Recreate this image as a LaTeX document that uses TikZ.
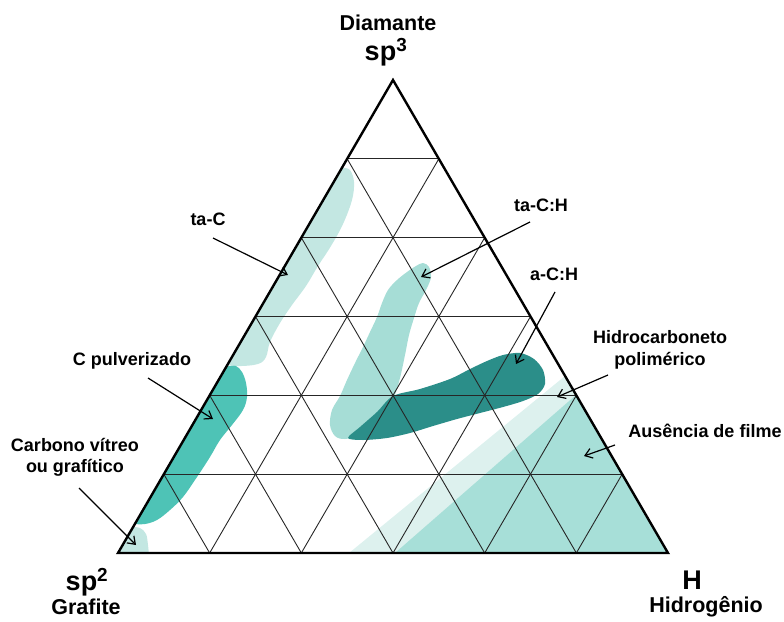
\documentclass[tikz,border=0pt]{standalone}
\usepackage{fontspec}
\setmainfont{Liberation Sans}
\usetikzlibrary{arrows.meta,calc}
\definecolor{tacol}{HTML}{C3E7E2}
\definecolor{tachcol}{HTML}{A6DDD6}
\definecolor{auscol}{HTML}{A7DFD8}
\definecolor{hidcol}{HTML}{DDF1EE}
\definecolor{cpulcol}{HTML}{4EC3B6}
\definecolor{darkcol}{HTML}{2B8E89}
\tikzset{
  lbl/.style={font=\fontsize{18}{21}\selectfont\bfseries, align=center, inner sep=0pt},
  ttl/.style={font=\fontsize{21.5}{24}\selectfont\bfseries, inner sep=0pt},
  big/.style={font=\fontsize{27}{30}\selectfont\bfseries, inner sep=0pt},
  gridline/.style={line width=0.9pt, black!85},
  frame/.style={line width=2.4pt, black, line join=miter},
  ptr/.style={line width=1.2pt, black, -{Straight Barb[length=7pt,width=10pt,line width=1.2pt]}},
}
\begin{document}
\begin{tikzpicture}[x=1pt,y=-1pt]
\useasboundingbox (0,0) rectangle (784,621);
\coordinate (A) at (393,80);
\coordinate (B) at (118,553);
\coordinate (C) at (668,553);

\begin{scope}
\clip (A) -- (B) -- (C) -- cycle;
% Hidrocarboneto polimerico band
\fill[hidcol] (565,376) -- (690,560) -- (340.5,560) -- cycle;
% Ausencia de filme
\fill[auscol] (576,395) -- (690,560) -- (387,560) -- cycle;
% ta-C
\fill[tacol] plot[smooth, tension=0.6] coordinates {(343,168) (350,170) (354,182) (352,200) (343,224) (331,246) (318,266) (306,286) (292,305) (280,323) (270,342) (266,357) (258,364) (238,366) (222,363)} -- (200,370) -- (330,160) -- cycle;
% C pulverizado
\fill[cpulcol] plot[smooth, tension=0.6] coordinates {(229,366) (236,366) (242,372) (246,383) (247,397) (243,410) (232,425) (220,440) (210,457) (197,477) (183,497) (170,510) (157,520) (145,524) (134,524)} -- (100,540) -- (200,360) -- cycle;
% Carbono vitreo
\fill[tacol] plot[smooth, tension=0.6] coordinates {(131,527) (140,528) (146,534) (148,545) (149,556)} -- (100,560) -- (120,520) -- cycle;
% ta-C:H
\fill[tachcol] plot[smooth cycle, tension=0.55] coordinates {(423,263) (429,267) (431,277) (427,288) (419,303) (414,318) (409,335) (405,355) (400,378) (394,397) (383,417) (362,434) (345,439) (335,436) (330,425) (332,410) (340,396) (347,380) (355,363) (363,347) (370,332) (377,317) (382,303) (388,290) (397,280) (407,272) (416,266)};
% a-C:H
\fill[darkcol] plot[smooth cycle, tension=0.5] coordinates {(393,396) (420,389) (450,379) (470,369) (487,361) (503,355) (520,353) (534,359) (543,370) (545,384) (538,394) (523,401) (503,407) (480,413) (457,419) (433,426) (410,433) (387,438) (363,440) (348,438) (360,427) (377,412)};
\end{scope}

% grid
\foreach \k in {1,...,5} {
  \draw[gridline] ($(B)!\k/6!(A)$) -- ($(C)!\k/6!(A)$);
  \draw[gridline] ($(B)!\k/6!(C)$) -- ($(C)!{(6-\k)/6}!(A)$);
  \draw[gridline] ($(B)!\k/6!(C)$) -- ($(B)!\k/6!(A)$);
}
\draw[frame] (A) -- (B) -- (C) -- cycle;

% titles
\node[ttl] (diam) at (388,23) {Diamante};
\node[big] (sp3) at (386,52) {sp\textsuperscript{3}};
\node[big] (sp2) at (87,582) {sp\textsuperscript{2}};
\node[ttl] (graf) at (86,607) {Grafite};
\node[big] (hh) at (692,580) {H};
\node[ttl] (hidro) at (706,607) {Hidrogênio};

% labels
\node[lbl] (tac) at (208,219) {ta-C};
\node[lbl] (tach) at (541,205) {ta-C:H};
\node[lbl] (ach) at (554,274) {a-C:H};
\node[lbl, font=\fontsize{18}{22}\selectfont\bfseries] (hcp) at (660,350) {Hidrocarboneto\\polimérico};
\node[lbl] (ausf) at (705,431) {Ausência de filme};
\node[lbl] (cpul) at (132,361) {C pulverizado};
\node[lbl, font=\fontsize{18}{21}\selectfont\bfseries] (cvit) at (75,457) {Carbono vítreo\\ou grafítico};

% arrow endpoints
\coordinate (tacS) at (213,238);   \coordinate (tacE) at (288,275);
\coordinate (tachS) at (530,222);  \coordinate (tachE) at (421,277);
\coordinate (achS) at (555,292);   \coordinate (achE) at (516,364);
\coordinate (hcpS) at (608,375);   \coordinate (hcpE) at (557,397);
\coordinate (ausS) at (615,445);   \coordinate (ausE) at (584,456);
\coordinate (cpulS) at (148,378);  \coordinate (cpulE) at (213,419);
\coordinate (cvitS) at (79,488);   \coordinate (cvitE) at (136,545);

\draw[ptr] (tacS) -- (tacE);
\draw[ptr] (tachS) -- (tachE);
\draw[ptr] (achS) -- (achE);
\draw[ptr] (hcpS) -- (hcpE);
\draw[ptr] (ausS) -- (ausE);
\draw[ptr] (cpulS) -- (cpulE);
\draw[ptr] (cvitS) -- (cvitE);
\end{tikzpicture}
\end{document}
